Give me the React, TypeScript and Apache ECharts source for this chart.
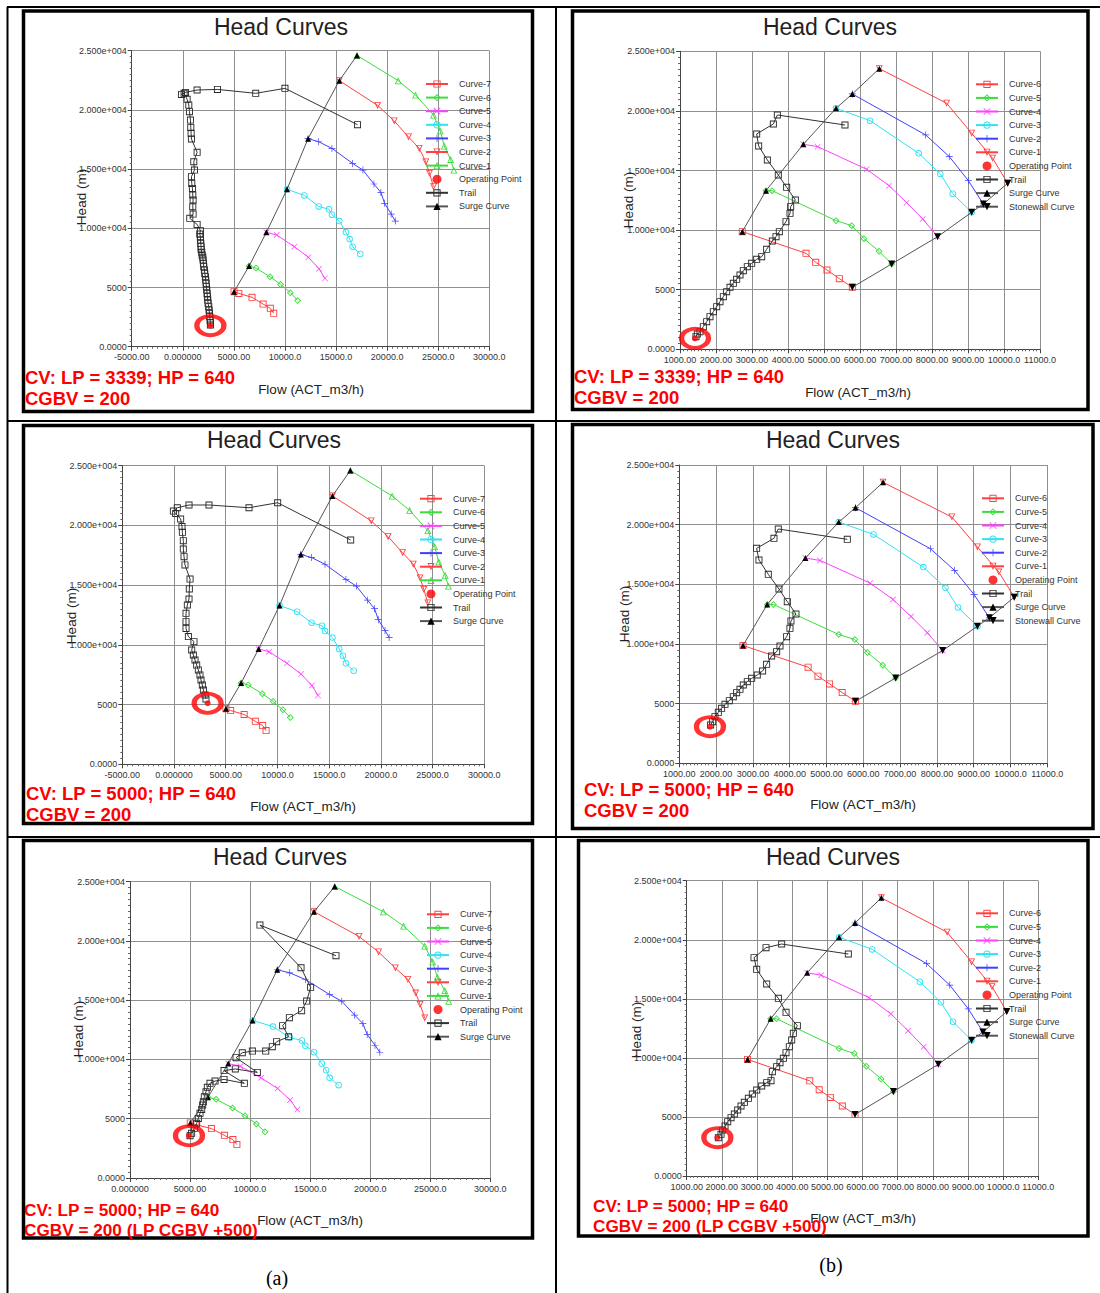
import React, { useEffect, useRef } from "react";
import * as echarts from "echarts";

// ---------- tick labels ----------
const flowTickValuesA = [-5000, 0, 5000, 10000, 15000, 20000, 25000, 30000];
const flowTickLabelsA = ["-5000.00", "0.000000", "5000.00", "10000.0", "15000.0", "20000.0", "25000.0", "30000.0"];
const flowTickValuesB = [1000, 2000, 3000, 4000, 5000, 6000, 7000, 8000, 9000, 10000, 11000];
const flowTickLabelsB = ["1000.00", "2000.00", "3000.00", "4000.00", "5000.00", "6000.00", "7000.00", "8000.00", "9000.00", "10000.0", "11000.0"];
const headTickValues = [0, 5000, 10000, 15000, 20000, 25000];
const headTickLabels = ["0.0000", "5000", "1.000e+004", "1.500e+004", "2.000e+004", "2.500e+004"];

// ---------- texts ----------
const chartTitle = "Head Curves";
const yTitle = "Head (m)";
const xTitle = "Flow (ACT_m3/h)";
const redLine1 = ["CV: LP = 3339; HP = 640", "CV: LP = 3339; HP = 640", "CV: LP = 5000; HP = 640", "CV: LP = 5000; HP = 640", "CV: LP = 5000; HP = 640", "CV: LP = 5000; HP = 640"];
const redLine2 = ["CGBV = 200", "CGBV = 200", "CGBV = 200", "CGBV = 200", "CGBV = 200 (LP CGBV +500)", "CGBV = 200 (LP CGBV +500)"];
const columnLabels = ["(a)", "(b)"];

// ---------- (a) compressor map ----------
const aSurge = [[5020, 4650], [6490, 6810], [8180, 9660], [10200, 13290], [12260, 17570], [15320, 22470], [17050, 24600]];
const aCurve7 = [[5020, 4650], [5480, 4500], [6780, 4170], [7860, 3600], [8570, 3240], [8900, 2820]];
const aCurve6 = [[6490, 6810], [7170, 6640], [8540, 5910], [9580, 5260], [10530, 4560], [11240, 3910]];
const aCurve5 = [[8180, 9660], [9190, 9430], [10920, 8450], [12290, 7550], [13330, 6590], [13920, 5770]];
const aCurve4 = [[10200, 13290], [11900, 12780], [13300, 11850], [14310, 11600], [14600, 11150], [15320, 10610], [15970, 9660], [16330, 9090], [16620, 8450], [17370, 7830]];
const aCurve3 = [[12260, 17570], [13300, 17310], [14600, 16750], [16620, 15480], [17630, 14920], [18710, 13740], [19390, 13030], [19750, 12110], [20400, 11200], [20800, 10610]];
const aCurve2 = [[15320, 22470], [19070, 20380], [20700, 19060], [22100, 17710], [23140, 16750], [23790, 15600], [24150, 14640], [24540, 13510]];
const aCurve1 = [[17050, 24600], [21090, 22470], [22780, 21260], [24540, 19570], [25200, 18240], [25590, 16950], [26210, 15820], [26530, 14920]];

// ---------- (b) compressor map ----------
const bSurge = [[2731, 9871], [3389, 13311], [4426, 17198], [5333, 20218], [5787, 21421], [6537, 23546]];
const bStonewall = [[5787, 5201], [6880, 7159], [8157, 9452], [9102, 11493], [9426, 12192], [10102, 13926]];
const bCurve6 = [[2731, 9871], [4500, 8054], [4769, 7299], [5083, 6655], [5426, 5928], [5787, 5201]];
const bCurve5 = [[3389, 13311], [3556, 13311], [5333, 10794], [5769, 10375], [6111, 9284], [6528, 8221], [6880, 7159]];
const bCurve4 = [[4426, 17198], [4824, 17002], [6185, 15101], [6806, 13730], [7296, 12304], [7741, 10934], [8157, 9452]];
const bCurve3 = [[5333, 20218], [6278, 19183], [7630, 16443], [8231, 14709], [8574, 13059], [9102, 11493]];
const bCurve2 = [[5787, 21421], [7824, 17981], [8481, 16163], [9009, 14150], [9426, 12192]];
const bCurve1 = [[6537, 23546], [8407, 20638], [9102, 18121], [9685, 16023], [10102, 13926]];

// ---------- trails and operating points ----------
const trail1 = [[17100, 18750], [10000, 21820], [7140, 21400], [3390, 21730], [1400, 21680], [260, 21480], [-130, 21310], [130, 21400], [424, 20890], [587, 20410], [652, 19850], [750, 19140], [782, 18520], [815, 18020], [847, 17540], [1402, 16420], [1076, 15620], [1141, 14920], [847, 14360], [880, 13790], [945, 13370], [978, 12810], [1010, 12390], [978, 11820], [1010, 11200], [684, 10840], [1402, 10330], [1727, 9800], [1662, 9516], [1727, 9290], [1727, 9009], [1760, 8730], [1793, 8446], [1793, 8220], [1858, 7967], [1890, 7740], [1956, 7545], [1988, 7320], [2021, 7038], [2053, 6760], [2119, 6475], [2151, 6190], [2216, 5912], [2249, 5630], [2282, 5349], [2314, 5070], [2347, 4786], [2379, 4500], [2412, 4223], [2445, 3940], [2477, 3660], [2542, 3380], [2575, 3097], [2608, 2820], [2640, 2534], [2673, 2250], [2705, 2027], [2705, 1830]];
const op1 = [2700, 1780];

const trail2 = [[5583, 18818], [3704, 19657], [3593, 18903], [3130, 18065], [3185, 17058], [3426, 15883], [3731, 14625], [3963, 13589], [4204, 12527], [4074, 11968], [4056, 11409], [3944, 10710], [3759, 9871], [3667, 9451], [3565, 9088], [3407, 8389], [3269, 7773], [3130, 7550], [2991, 7214], [2870, 6934], [2759, 6599], [2667, 6235], [2574, 5872], [2481, 5536], [2389, 5201], [2296, 4837], [2204, 4418], [2111, 3998], [2019, 3579], [1926, 3159], [1833, 2740], [1741, 2320], [1648, 1901], [1556, 1482], [1481, 1286], [1444, 1062]];
const op2 = [1417, 923];

const trail3 = [[17080, 18780], [10020, 21900], [7250, 21480], [3380, 21710], [1450, 21710], [320, 21480], [-60, 21200], [160, 21000], [640, 20540], [770, 19900], [810, 19420], [900, 18720], [900, 18020], [970, 17380], [1060, 16690], [1550, 15510], [1480, 14680], [1450, 13840], [1290, 13340], [1160, 12640], [1160, 11940], [1160, 11380], [1390, 10690], [1930, 10270], [1710, 9570], [1870, 9150], [2030, 8730], [2190, 8310], [2350, 7900], [2510, 7480], [2610, 7060], [2740, 6640], [2840, 6220], [3000, 5800], [3090, 5470]];
const op3 = [3250, 5110];

const trail4 = [[5565, 18771], [3690, 19637], [3572, 18855], [3101, 18017], [3165, 17039], [3418, 15838], [3708, 14609], [3935, 13547], [4170, 12514], [4034, 11927], [4007, 11313], [3917, 10615], [3736, 9832], [3645, 9358], [3509, 8994], [3373, 8296], [3264, 7737], [3119, 7402], [2966, 7123], [2848, 6844], [2739, 6564], [2649, 6201], [2558, 5922], [2467, 5587], [2359, 5251], [2241, 4944], [2150, 4609], [2060, 4274], [1969, 3911], [1906, 3492], [1851, 3212]];
const op4 = [1833, 3073];

const trail5 = [[17150, 18760], [10820, 21340], [14240, 17740], [15040, 16090], [14710, 14930], [14290, 14120], [13270, 13530], [12710, 12850], [13210, 11920], [12210, 11500], [11850, 11080], [11300, 10710], [10190, 10710], [9350, 10570], [8830, 10150], [10600, 8910], [8770, 9200], [7830, 9060], [9520, 7990], [7830, 8320], [7080, 8180], [6660, 7990], [6440, 7650], [6330, 7280], [6190, 6860], [6110, 6440], [6050, 6160], [5970, 5790], [5830, 5460], [5690, 5030], [5550, 4610], [5360, 4190], [5130, 3770], [5000, 3570]];
const op5 = [4910, 3570];

const trail6 = [[5597, 18792], [3701, 19639], [3256, 19329], [2915, 18482], [2991, 17494], [3275, 16253], [3607, 15040], [3825, 13854], [4147, 12726], [4033, 12077], [3986, 11512], [3919, 10948], [3825, 10440], [3749, 9960], [3654, 9594], [3559, 9255], [3436, 8832], [3398, 8070], [3275, 7901], [3133, 7619], [2991, 7280], [2867, 6941], [2754, 6575], [2640, 6236], [2545, 5926], [2450, 5587], [2355, 5248], [2261, 4938], [2166, 4599], [2090, 4233], [2024, 3894], [1976, 3527], [1900, 3245]];
const op6 = [1872, 3245];

// ---------- styles / layout ----------
const FONT = "'Liberation Sans', Arial, Helvetica, sans-serif";
const RED = "#ff4040";
const GREEN = "#3ddc3d";
const MAGENTA = "#ff40ff";
const CYAN = "#2fe2f4";
const BLUE = "#4040ff";
// thin hollow marker outlines (outer ring + reversed inner ring => hole)
const SQ = "path://M0,0H10V10H0Z M1.3,1.3V8.7H8.7V1.3Z";
const DIA = "path://M5,0L10,5L5,10L0,5Z M5,1.8L1.8,5L5,8.2L8.2,5Z";
const CIR = "path://M5,0A5,5 0 1,1 5,10A5,5 0 1,1 5,0Z M5,1.3A3.7,3.7 0 1,0 5,8.7A3.7,3.7 0 1,0 5,1.3Z";
const TRI_UP = "path://M5,0L10,10L0,10Z M5,2.9L1.9,8.9L8.1,8.9Z";
const TRI_DN = "path://M0,0L10,0L5,10Z M1.9,1.1L5,7.1L8.1,1.1Z";
const XPATH = "path://M0.8,0L5,4.2L9.2,0L10,0.8L5.8,5L10,9.2L9.2,10L5,5.8L0.8,10L0,9.2L4.2,5L0,0.8Z";
const PLUSPATH = "path://M4.5,0H5.5V4.5H10V5.5H5.5V10H4.5V5.5H0V4.5H4.5Z";
const FILLED_DN = "path://M0,0L10,0L5,10Z";

const curvesA = [
  { name: "Curve-7", data: aCurve7, color: RED, symbol: SQ, size: 7 },
  { name: "Curve-6", data: aCurve6, color: GREEN, symbol: DIA, size: 7 },
  { name: "Curve-5", data: aCurve5, color: MAGENTA, symbol: XPATH, size: 6 },
  { name: "Curve-4", data: aCurve4, color: CYAN, symbol: CIR, size: 6.5 },
  { name: "Curve-3", data: aCurve3, color: BLUE, symbol: PLUSPATH, size: 7 },
  { name: "Curve-2", data: aCurve2, color: RED, symbol: TRI_DN, size: 7 },
  { name: "Curve-1", data: aCurve1, color: GREEN, symbol: TRI_UP, size: 7 },
];
const curvesB = [
  { name: "Curve-6", data: bCurve6, color: RED, symbol: SQ, size: 7 },
  { name: "Curve-5", data: bCurve5, color: GREEN, symbol: DIA, size: 7 },
  { name: "Curve-4", data: bCurve4, color: MAGENTA, symbol: XPATH, size: 6 },
  { name: "Curve-3", data: bCurve3, color: CYAN, symbol: CIR, size: 6.5 },
  { name: "Curve-2", data: bCurve2, color: BLUE, symbol: PLUSPATH, size: 7 },
  { name: "Curve-1", data: bCurve1, color: RED, symbol: TRI_DN, size: 7 },
];

const panels = [
  { kind: "a", trail: trail1, op: op1, xMin: -5000, grid: [131.7, 50.7, 357.6, 296], box: [23.5, 11, 509, 400.5], title: [281, 27], head: [81, 197], flow: [311, 389], red: [25, 377, 398], redSize: 18.5, legend: [425, 84] },
  { kind: "b", trail: trail2, op: op2, xMin: 1000, grid: [680, 51.3, 360, 298], box: [572.5, 11, 515.5, 398.5], title: [830, 27], head: [628, 200], flow: [858, 392], red: [574, 376, 397], redSize: 18.5, legend: [975, 84.3] },
  { kind: "a", trail: trail3, op: op3, xMin: -5000, grid: [122.3, 465.7, 362, 298.6], box: [23.5, 425.5, 509, 398], title: [274, 440], head: [71, 616], flow: [303, 806], red: [26, 793, 814], redSize: 18.5, legend: [419, 498.7] },
  { kind: "b", trail: trail4, op: op4, xMin: 1000, grid: [679.3, 465, 368, 298.3], box: [572.5, 424.5, 520.5, 404], title: [833, 440], head: [624, 614], flow: [863, 804], red: [584, 789, 810], redSize: 18.5, legend: [981, 498.3] },
  { kind: "a", trail: trail5, op: op5, xMin: 0, grid: [130, 881.7, 360.3, 296.3], box: [23.5, 840.5, 509, 397.5], title: [280, 857], head: [78, 1029], flow: [310, 1220], red: [24, 1210, 1230], redSize: 17.2, legend: [426, 914.3] },
  { kind: "b", trail: trail6, op: op6, xMin: 1000, grid: [686.7, 880.7, 351.6, 295.3], box: [578.5, 840.5, 509.5, 395.5], title: [833, 857], head: [636, 1030], flow: [863, 1218], red: [593, 1206, 1226], redSize: 17.2, legend: [975, 913.3] },
];

function labelFor(v: number, vals: number[], labs: string[]) {
  const i = vals.findIndex((t) => Math.abs(t - v) < 1e-6);
  return i >= 0 ? labs[i] : "";
}

function text(x: number, y: number, t: string, size: number, opts: any = {}) {
  return {
    type: "text",
    x,
    y,
    rotation: opts.rotation || 0,
    z: 50,
    style: {
      text: t,
      fontSize: size,
      fontFamily: opts.family || FONT,
      fontWeight: opts.weight || "normal",
      fill: opts.color || "#222",
      align: opts.align || "center",
      textAlign: opts.align || "center",
      verticalAlign: "middle",
      textVerticalAlign: "middle",
    },
  };
}

function buildOption() {
  const grid: any[] = [];
  const xAxis: any[] = [];
  const yAxis: any[] = [];
  const series: any[] = [];
  const legend: any[] = [];
  const graphic: any[] = [];

  // table lines
  const tbl = { stroke: "#000", lineWidth: 2 };
  graphic.push({ type: "line", z: 40, shape: { x1: 7, y1: 7, x2: 1100, y2: 7 }, style: tbl });
  graphic.push({ type: "line", z: 40, shape: { x1: 7, y1: 421, x2: 1100, y2: 421 }, style: tbl });
  graphic.push({ type: "line", z: 40, shape: { x1: 7, y1: 837, x2: 1100, y2: 837 }, style: tbl });
  graphic.push({ type: "line", z: 40, shape: { x1: 7.5, y1: 7, x2: 7.5, y2: 1293 }, style: tbl });
  graphic.push({ type: "line", z: 40, shape: { x1: 556, y1: 7, x2: 556, y2: 1293 }, style: tbl });

  panels.forEach((p, i) => {
    const isA = p.kind === "a";
    const xVals = isA ? flowTickValuesA : flowTickValuesB;
    const xLabs = isA ? flowTickLabelsA : flowTickLabelsB;
    grid.push({ left: p.grid[0], top: p.grid[1], width: p.grid[2], height: p.grid[3], containLabel: false });
    xAxis.push({
      type: "value",
      gridIndex: i,
      min: p.xMin,
      max: isA ? 30000 : 11000,
      interval: isA ? 5000 : 1000,
      axisLine: { show: true, onZero: false, lineStyle: { color: "#444", width: 1 } },
      axisTick: { show: true, length: 4, lineStyle: { color: "#444" } },
      minorTick: { show: true, splitNumber: 10, length: 2, lineStyle: { color: "#666" } },
      splitLine: { show: true, lineStyle: { color: "#8f8f8f", width: 1 } },
      axisLabel: { fontSize: 9, color: "#333", fontFamily: FONT, margin: 6, formatter: (v: number) => labelFor(v, xVals, xLabs) },
    });
    yAxis.push({
      type: "value",
      gridIndex: i,
      min: 0,
      max: 25000,
      interval: 5000,
      axisLine: { show: true, onZero: false, lineStyle: { color: "#444", width: 1 } },
      axisTick: { show: true, length: 4, lineStyle: { color: "#444" } },
      minorTick: { show: true, splitNumber: 10, length: 2, lineStyle: { color: "#666" } },
      splitLine: { show: true, lineStyle: { color: "#8f8f8f", width: 1 } },
      axisLabel: { fontSize: 9, color: "#333", fontFamily: FONT, margin: 5, formatter: (v: number) => labelFor(v, headTickValues, headTickLabels) },
    });

    const sfx = "|" + i;
    const curves = isA ? curvesA : curvesB;
    const names: string[] = [];
    curves.forEach((c) => {
      names.push(c.name + sfx);
      series.push({
        type: "line",
        name: c.name + sfx,
        xAxisIndex: i,
        yAxisIndex: i,
        data: c.data,
        symbol: c.symbol,
        symbolSize: c.size,
        showSymbol: true,
        showAllSymbol: true,
        lineStyle: { color: c.color, width: 1 },
        itemStyle: { color: c.color, borderWidth: 0 },
        emphasis: { disabled: true },
        z: 3,
      });
    });
    names.push("Operating Point" + sfx, "Trail" + sfx, "Surge Curve" + sfx);
    if (!isA) names.push("Stonewall Curve" + sfx);

    series.push({
      type: "line",
      name: "Surge Curve" + sfx,
      xAxisIndex: i,
      yAxisIndex: i,
      data: isA ? aSurge : bSurge,
      symbol: "triangle",
      symbolSize: 6,
      showAllSymbol: true,
      lineStyle: { color: "#555", width: 1 },
      itemStyle: { color: "#000", borderWidth: 0 },
      emphasis: { disabled: true },
      z: 4,
    });
    if (!isA) {
      series.push({
        type: "line",
        name: "Stonewall Curve" + sfx,
        xAxisIndex: i,
        yAxisIndex: i,
        data: bStonewall,
        symbol: FILLED_DN,
        symbolSize: 7,
        showAllSymbol: true,
        lineStyle: { color: "#555", width: 1 },
        itemStyle: { color: "#000", borderWidth: 0 },
        emphasis: { disabled: true },
        z: 4,
      });
    }
    series.push({
      type: "line",
      name: "Trail" + sfx,
      xAxisIndex: i,
      yAxisIndex: i,
      data: p.trail,
      symbol: SQ,
      symbolSize: 7,
      showAllSymbol: true,
      lineStyle: { color: "#333", width: 1 },
      itemStyle: { color: "#2a2a2a", borderWidth: 0 },
      emphasis: { disabled: true },
      z: 5,
    });
    series.push({
      type: "scatter",
      name: "Operating Point" + sfx,
      xAxisIndex: i,
      yAxisIndex: i,
      data: [p.op],
      symbol: "circle",
      symbolSize: 6,
      itemStyle: { color: "#ff0000" },
      emphasis: { disabled: true },
      z: 6,
    });
    series.push({
      type: "scatter",
      name: "ring" + sfx,
      xAxisIndex: i,
      yAxisIndex: i,
      data: [p.op],
      symbol: "circle",
      symbolSize: [27, 19],
      itemStyle: { color: "rgba(0,0,0,0)", borderColor: "#ff0000", borderWidth: 4.5 },
      silent: true,
      emphasis: { disabled: true },
      z: 7,
    });

    legend.push({
      orient: "vertical",
      left: p.legend[0],
      top: p.legend[1] - 4.5,
      itemWidth: 22,
      itemHeight: 9,
      itemGap: 4.6,
      padding: 0,
      selectedMode: false,
      data: names,
      formatter: (n: string) => n.split("|")[0],
      textStyle: { fontSize: 9, lineHeight: 9, color: "#333", fontFamily: FONT, padding: [0, 0, 0, 6] },
    });

    // panel box & texts
    graphic.push({ type: "rect", z: 45, shape: { x: p.box[0], y: p.box[1], width: p.box[2], height: p.box[3] }, style: { fill: "none", stroke: "#000", lineWidth: 3.5 } });
    graphic.push(text(p.title[0], p.title[1], chartTitle, 23, { color: "#222" }));
    graphic.push(text(p.head[0], p.head[1], yTitle, 13.5, { rotation: Math.PI / 2, color: "#222" }));
    graphic.push(text(p.flow[0], p.flow[1], xTitle, 13.5, { color: "#222" }));
    graphic.push(text(p.red[0], p.red[1], redLine1[i], p.redSize, { align: "left", weight: "bold", color: "#ff0000" }));
    graphic.push(text(p.red[0], p.red[2], redLine2[i], p.redSize, { align: "left", weight: "bold", color: "#ff0000" }));
  });

  graphic.push(text(277, 1278, columnLabels[0], 20, { family: "'Liberation Serif', 'Times New Roman', serif", color: "#000" }));
  graphic.push(text(831, 1265, columnLabels[1], 20, { family: "'Liberation Serif', 'Times New Roman', serif", color: "#000" }));

  return {
    animation: false,
    backgroundColor: "#fff",
    grid,
    xAxis,
    yAxis,
    series,
    legend,
    graphic,
  };
}

export default function App() {
  const ref = useRef<HTMLDivElement>(null);
  useEffect(() => {
    if (!ref.current) return;
    const chart = echarts.init(ref.current, null, { renderer: "svg" });
    chart.setOption(buildOption());
    return () => chart.dispose();
  }, []);
  return (
    <div
      ref={ref}
      style={{ position: "absolute", left: 0, top: 0, width: 1100, height: 1293, background: "#fff" }}
    />
  );
}
